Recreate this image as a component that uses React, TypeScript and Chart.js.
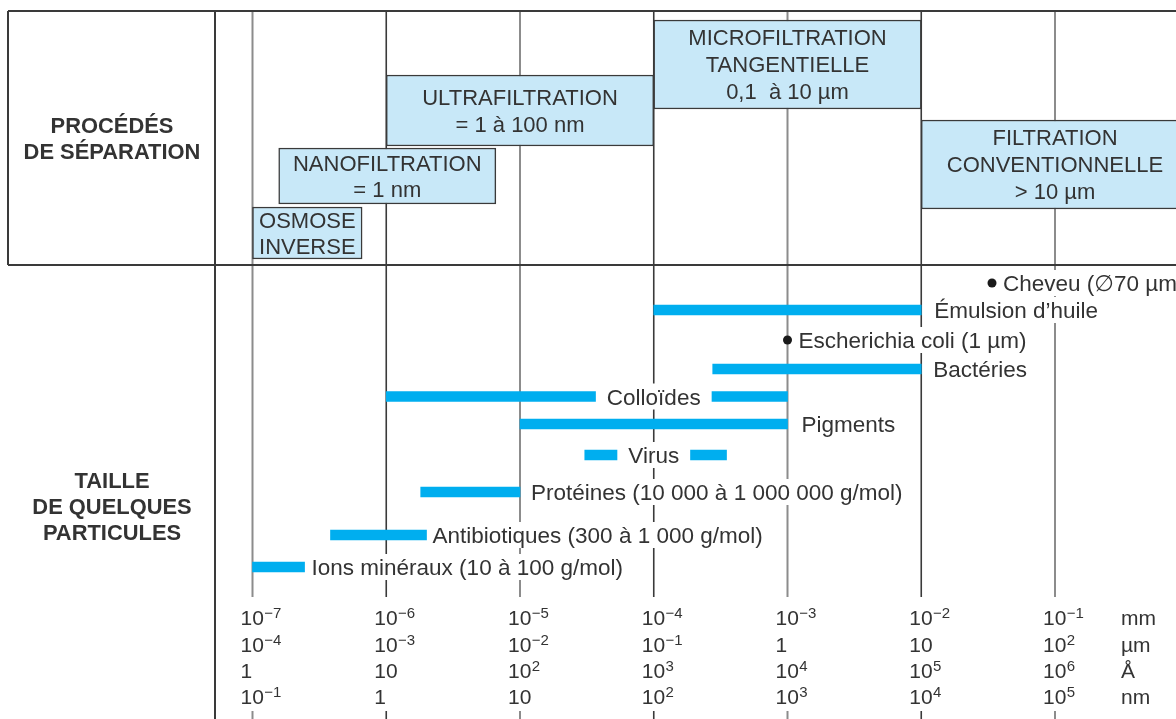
import React, { useEffect, useRef } from 'react';
import { Chart, registerables } from 'chart.js';

Chart.register(...registerables);

// ---------------- data ----------------
// particle size axis, in mm (logarithmic)
const decadeValues = [1e-7, 1e-6, 1e-5, 1e-4, 1e-3, 1e-2, 1e-1];
const tickMm = ['10^−7', '10^−6', '10^−5', '10^−4', '10^−3', '10^−2', '10^−1'];
const tickUm = ['10^−4', '10^−3', '10^−2', '10^−1', '1', '10', '10^2'];
const tickAngstrom = ['1', '10', '10^2', '10^3', '10^4', '10^5', '10^6'];
const tickNm = ['10^−1', '1', '10', '10^2', '10^3', '10^4', '10^5'];
const unitLabels = ['mm', 'µm', 'Å', 'nm'];

// separation processes (ranges in mm)
const processLabels = [
  ['OSMOSE', 'INVERSE'],
  ['NANOFILTRATION', '= 1 nm'],
  ['ULTRAFILTRATION', '= 1 à 100 nm'],
  ['MICROFILTRATION', 'TANGENTIELLE', '0,1  à 10 µm'],
  ['FILTRATION', 'CONVENTIONNELLE', '> 10 µm'],
];
const processMin = [1e-7, 1.57e-7, 1e-6, 1e-4, 1e-2];
const processMax = [6.6e-7, 6.6e-6, 1e-4, 1e-2, 1];

// particle size ranges (mm)
const particleLabels = [
  'Émulsion d’huile',
  'Bactéries',
  'Colloïdes',
  'Pigments',
  'Virus',
  'Protéines (10 000 à 1 000 000 g/mol)',
  'Antibiotiques (300 à 1 000 g/mol)',
  'Ions minéraux (10 à 100 g/mol)',
];
const particleMin = [1e-4, 2.76e-4, 1e-6, 1e-5, 3.05e-5, 1.81e-6, 3.83e-7, 1e-7];
const particleMax = [1e-2, 1e-2, 1e-3, 1e-3, 3.5e-4, 1e-5, 2.0e-6, 2.45e-7];

// single sizes (mm)
const pointLabels = ['Cheveu (∅70 µm)', 'Escherichia coli (1 µm)'];
const pointValues = [3.38e-2, 1e-3];

const sectionLabels = [
  ['PROCÉDÉS', 'DE SÉPARATION'],
  ['TAILLE', 'DE QUELQUES', 'PARTICULES'],
];

// ---------------- layout (vertical positions on the y scale) ----------------
const processTop = [207, 148, 75, 20, 120];
const processBottom = [259, 204, 146, 109, 209];
const particleRow = [310, 369, 396.5, 424, 455, 492, 535, 567];
const particleLabelMode = ['right', 'right', 'gap', 'right', 'gap', 'right', 'right', 'right'];
const particleLabelGap = [13, 12, 0, 14, 0, 11, 6, 7];
const gapLabelAt = 1e-4;
const pointRow = [283, 340];
const sectionCenter = [138, 506];
const tickBaselines = [625, 652, 678, 704];

const FRAME_TOP = 11;
const SECTION_SPLIT = 265;
const GRID_BOTTOM = 597;
const STUB_TOP = 711;
const PAGE_BOTTOM = 719;
const FRAME_LEFT = 8;
const LABEL_COL_RIGHT = 215;
const LABEL_COL_CENTER = 112;
const UNIT_X = 1121;

const FONT = '"Liberation Sans", Arial, Helvetica, "DejaVu Sans", sans-serif';
const TEXT = '#333333';
const LABEL_SIZE = 22.5;
const BOX_SIZE = 22;
const SECTION_SIZE = 21.9;
const TICK_SIZE = 21;
const SUP_SIZE = 15;
const LINE_STEP = 27;

const capHalf = (size: number) => size * 0.716 / 2;

function drawPower(ctx: CanvasRenderingContext2D, text: string, x: number, baseline: number) {
  const [base, exp] = text.split('^');
  ctx.textAlign = 'left';
  ctx.font = `${TICK_SIZE}px ${FONT}`;
  ctx.fillText(base, x, baseline);
  if (exp) {
    const w = ctx.measureText(base).width;
    ctx.font = `${SUP_SIZE}px ${FONT}`;
    ctx.fillText(exp, x + w + 0.5, baseline - 7);
  }
}

const diagramPlugin = {
  id: 'diagram',
  beforeDatasetsDraw(chart: any) {
    const { ctx } = chart;
    const xs = chart.scales.x;
    const ys = chart.scales.y;
    ctx.save();
    decadeValues.forEach((v, i) => {
      const px = xs.getPixelForValue(v);
      const dark = i % 2 === 1;
      ctx.strokeStyle = dark ? '#3a3a3a' : '#8c8c8c';
      ctx.lineWidth = dark ? 1.6 : 2;
      ctx.beginPath();
      ctx.moveTo(px, ys.getPixelForValue(FRAME_TOP));
      ctx.lineTo(px, ys.getPixelForValue(GRID_BOTTOM));
      ctx.stroke();
      ctx.beginPath();
      ctx.moveTo(px, ys.getPixelForValue(STUB_TOP));
      ctx.lineTo(px, ys.getPixelForValue(PAGE_BOTTOM));
      ctx.stroke();
    });
    ctx.restore();
  },
  afterDatasetsDraw(chart: any) {
    const { ctx } = chart;
    const xs = chart.scales.x;
    const ys = chart.scales.y;
    ctx.save();
    ctx.fillStyle = TEXT;
    ctx.textBaseline = 'alphabetic';

    const whiteBox = (x: number, yc: number, w: number) => {
      ctx.fillStyle = '#ffffff';
      ctx.fillRect(x, yc - 13, w, 26);
      ctx.fillStyle = TEXT;
    };

    // particle labels
    ctx.font = `${LABEL_SIZE}px ${FONT}`;
    ctx.textAlign = 'left';
    particleLabels.forEach((label, i) => {
      const y = ys.getPixelForValue(particleRow[i]);
      const w = ctx.measureText(label).width;
      let x: number;
      if (particleLabelMode[i] === 'gap') {
        const cx = xs.getPixelForValue(gapLabelAt);
        x = cx - w / 2;
        whiteBox(x - 11, y, w + 22);
      } else {
        x = xs.getPixelForValue(particleMax[i]) + particleLabelGap[i];
        whiteBox(x - 4, y, w + 8);
      }
      ctx.fillText(label, x, y + capHalf(LABEL_SIZE));
    });

    // point labels
    pointLabels.forEach((label, i) => {
      const y = ys.getPixelForValue(pointRow[i]);
      const x = xs.getPixelForValue(pointValues[i]) + 11;
      const w = ctx.measureText(label).width;
      whiteBox(x - 4, y, w + 8);
      ctx.fillText(label, x, y + capHalf(LABEL_SIZE));
    });

    // process box texts
    ctx.font = `${BOX_SIZE}px ${FONT}`;
    ctx.textAlign = 'center';
    processLabels.forEach((lines, i) => {
      const cx = (xs.getPixelForValue(processMin[i]) + xs.getPixelForValue(processMax[i])) / 2;
      const cy = ys.getPixelForValue((processTop[i] + processBottom[i]) / 2);
      const step = lines.length === 2 && processBottom[i] - processTop[i] < 60 ? 26.5 : LINE_STEP;
      lines.forEach((line, j) => {
        const ly = cy + (j - (lines.length - 1) / 2) * step;
        ctx.fillText(line, cx, ly + capHalf(BOX_SIZE));
      });
    });

    // section labels (left column)
    ctx.font = `bold ${SECTION_SIZE}px ${FONT}`;
    ctx.textAlign = 'center';
    sectionLabels.forEach((lines, i) => {
      const cy = ys.getPixelForValue(sectionCenter[i]);
      lines.forEach((line, j) => {
        const ly = cy + (j - (lines.length - 1) / 2) * 26;
        ctx.fillText(line, LABEL_COL_CENTER, ly + capHalf(SECTION_SIZE));
      });
    });

    // tick labels
    const rows = [tickMm, tickUm, tickAngstrom, tickNm];
    rows.forEach((row, r) => {
      const base = ys.getPixelForValue(tickBaselines[r]);
      row.forEach((t, i) => {
        const px = xs.getPixelForValue(decadeValues[i]) - 12;
        drawPower(ctx, t, px, base);
      });
      ctx.font = `${TICK_SIZE}px ${FONT}`;
      ctx.textAlign = 'left';
      ctx.fillText(unitLabels[r], UNIT_X, base);
    });

    // frame
    ctx.strokeStyle = '#3a3a3a';
    ctx.lineWidth = 2;
    const right = chart.width;
    const yTop = ys.getPixelForValue(FRAME_TOP);
    const ySplit = ys.getPixelForValue(SECTION_SPLIT);
    ctx.beginPath();
    ctx.moveTo(FRAME_LEFT, yTop);
    ctx.lineTo(right, yTop);
    ctx.moveTo(FRAME_LEFT, ySplit);
    ctx.lineTo(right, ySplit);
    ctx.moveTo(FRAME_LEFT, yTop);
    ctx.lineTo(FRAME_LEFT, ySplit);
    ctx.moveTo(LABEL_COL_RIGHT, yTop);
    ctx.lineTo(LABEL_COL_RIGHT, ys.getPixelForValue(PAGE_BOTTOM));
    ctx.stroke();
    ctx.restore();
  },
};

export default function App() {
  const canvasRef = useRef<HTMLCanvasElement | null>(null);

  useEffect(() => {
    if (!canvasRef.current) return;
    const boxDatasets = processLabels.map((lines, i) => ({
      type: 'bar' as const,
      label: lines.join(' '),
      data: [{ x: [processMin[i], processMax[i]], y: (processTop[i] + processBottom[i]) / 2 }],
      barThickness: processBottom[i] - processTop[i],
      backgroundColor: '#C8E8F8',
      borderColor: '#3a3a3a',
      borderWidth: 1.5,
      borderSkipped: false,
      stack: 'one',
    }));
    const particleDataset = {
      type: 'bar' as const,
      label: 'Particules',
      data: particleLabels.map((_, i) => ({ x: [particleMin[i], particleMax[i]], y: particleRow[i] })),
      barThickness: 10,
      backgroundColor: '#00AEEF',
      borderWidth: 0,
      stack: 'one',
    };
    const pointDataset = {
      type: 'scatter' as const,
      label: 'Tailles',
      data: pointValues.map((v, i) => ({ x: v, y: pointRow[i] })),
      pointRadius: 4.5,
      pointBackgroundColor: '#1a1a1a',
      pointBorderWidth: 0,
      showLine: false,
    };

    const logMin = Math.pow(10, -7 - 37.5 / 133.75);
    const logMax = Math.pow(10, -1 + 121 / 133.75);

    const chart = new Chart(canvasRef.current, {
      type: 'bar',
      data: { datasets: [pointDataset as any, particleDataset as any, ...(boxDatasets as any)] },
      options: {
        indexAxis: 'y',
        animation: false,
        responsive: true,
        maintainAspectRatio: false,
        events: [],
        layout: { autoPadding: false, padding: { left: LABEL_COL_RIGHT, right: 0, top: 0, bottom: 0 } },
        plugins: { legend: { display: false }, tooltip: { enabled: false } },
        scales: {
          x: { type: 'logarithmic', min: logMin, max: logMax, display: false, stacked: false, bounds: 'data', offset: false },
          y: { type: 'linear', reverse: true, min: 0, max: 719, display: false, offset: false, grace: 0 },
        },
      },
      plugins: [diagramPlugin],
    });
    return () => chart.destroy();
  }, []);

  return (
    <div style={{ position: 'fixed', left: 0, top: 0, width: 1176, height: 719, background: '#ffffff' }}>
      <canvas ref={canvasRef} />
    </div>
  );
}
